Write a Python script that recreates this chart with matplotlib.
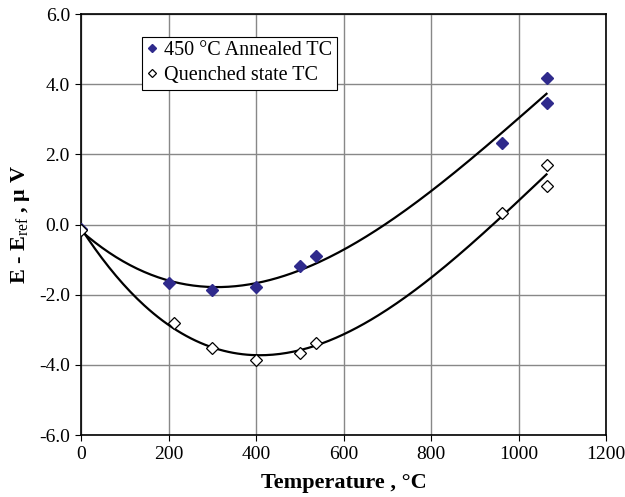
import numpy as np
import matplotlib
matplotlib.use('Agg')
import matplotlib.pyplot as plt

plt.rcParams['font.family'] = 'Liberation Serif'
plt.rcParams['mathtext.fontset'] = 'custom'
plt.rcParams['mathtext.rm'] = 'Liberation Serif'
plt.rcParams['mathtext.bf'] = 'Liberation Serif:bold'

# annealed thermocouple, 450 C
t_ann = [0, 200, 300, 400, 500, 537, 962, 1064, 1064]
e_ann = [-0.12, -1.68, -1.87, -1.78, -1.18, -0.91, 2.32, 4.17, 3.47]
# quenched thermocouple
t_q = [0, 212, 300, 400, 500, 537, 962, 1064, 1064]
e_q = [-0.15, -2.80, -3.51, -3.85, -3.67, -3.37, 0.32, 1.69, 1.11]

fig = plt.figure(figsize=(6.25, 4.97), dpi=100)
ax = fig.add_axes([0.1296, 0.1247, 0.84, 0.8471])

# polynomial trend lines through each set
tt = np.linspace(0, 1064, 200)
p1 = np.polyfit(t_ann, e_ann, 3)
p2 = np.polyfit(t_q, e_q, 3)
ax.plot(tt, np.polyval(p1, tt), color='black', lw=1.6, zorder=2)
ax.plot(tt, np.polyval(p2, tt), color='black', lw=1.6, zorder=2)

ax.plot(t_ann, e_ann, 'D', ms=6.5, color='#2f2a8c', mec='#2f2a8c', ls='none',
        label='450 °C Annealed TC', zorder=3)
ax.plot(t_q, e_q, 'D', ms=6.5, mfc='white', mec='black', mew=0.9, ls='none',
        label='Quenched state TC', zorder=3)

ax.set_xlim(0, 1200)
ax.set_ylim(-6, 6)
ax.set_xticks(range(0, 1201, 200))
ax.set_yticks(np.arange(-6, 6.1, 2))
ax.set_yticklabels(['%.1f' % v for v in np.arange(-6, 6.1, 2)])
ax.grid(True, color='#888888', lw=1.0)
ax.set_axisbelow(True)
ax.tick_params(labelsize=14, length=4, direction='out', pad=4)
for s in ax.spines.values():
    s.set_linewidth(1.2)

ax.set_xlabel('Temperature , °C', fontsize=16, fontweight='bold', labelpad=7)
ax.set_ylabel(r'E - E$_{\mathrm{ref}}$ , μ V', fontsize=16, fontweight='bold',
              labelpad=5)

leg = ax.legend(loc='upper left', bbox_to_anchor=(0.117, 0.946), fontsize=14.5,
                frameon=True, fancybox=False, handlelength=0.5,
                handletextpad=0.35, borderpad=0.22, labelspacing=0.3,
                markerscale=0.65, borderaxespad=0)
leg.get_frame().set_edgecolor('black')
leg.get_frame().set_linewidth(0.8)
leg.get_frame().set_alpha(1)

fig.savefig('out.png', dpi=100)
